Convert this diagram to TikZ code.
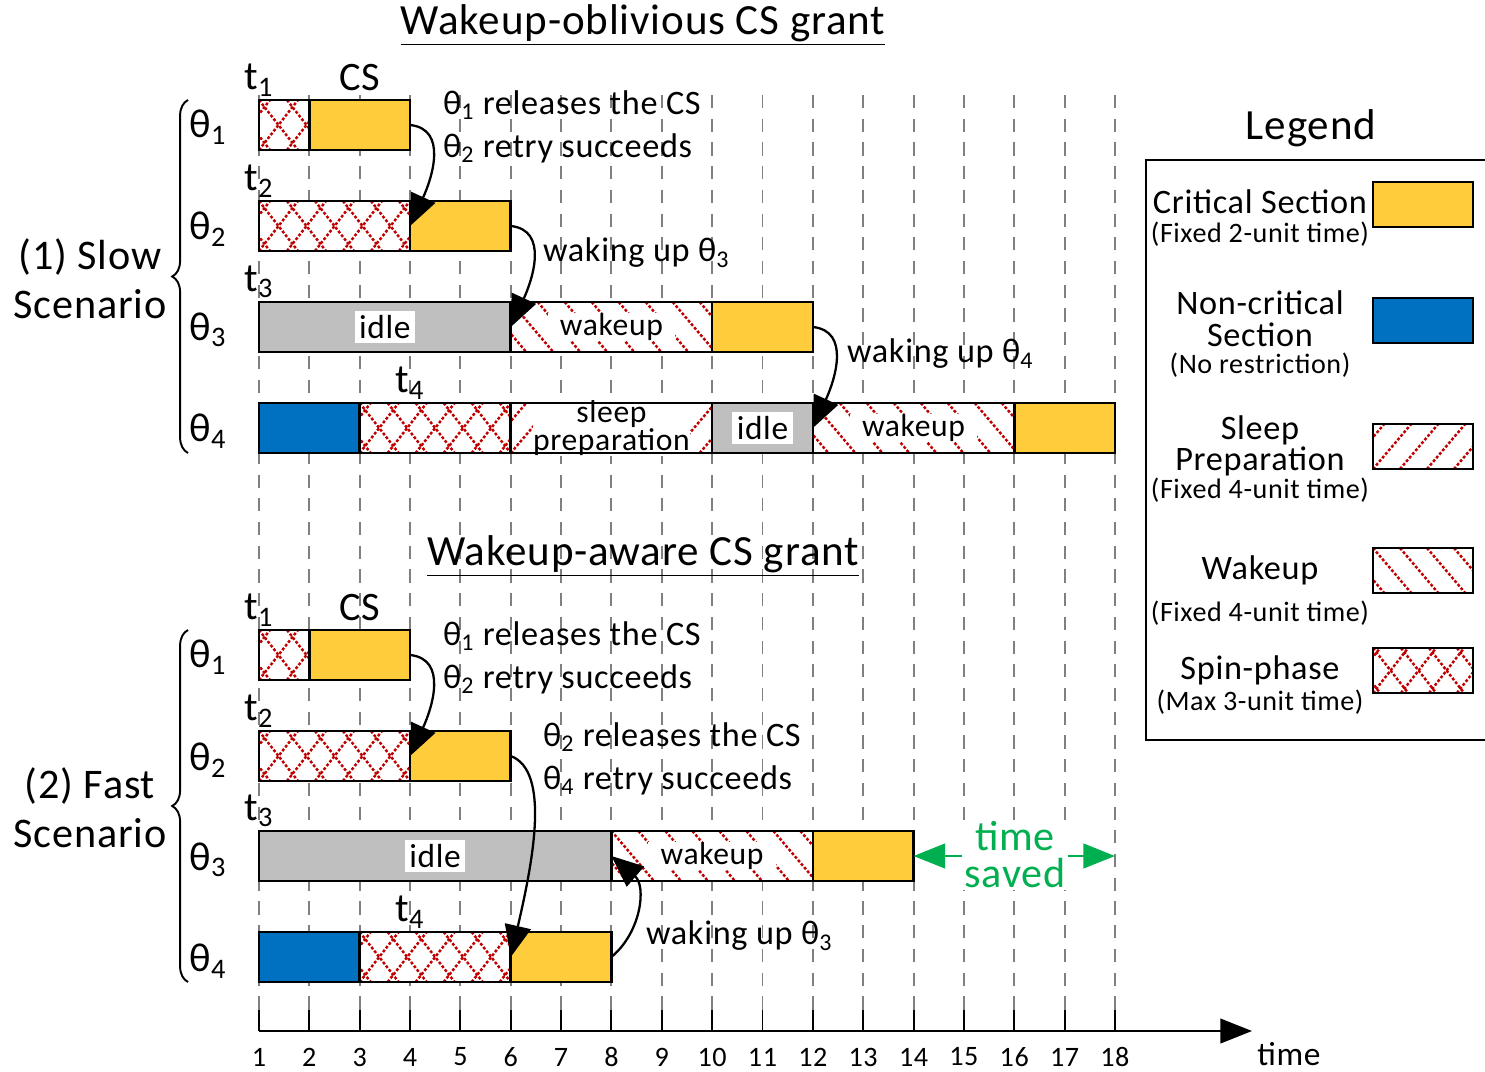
\documentclass[tikz,border=0pt]{standalone}
\usepackage{fontspec}
\setmainfont[LetterSpace=2]{Carlito}
\usepackage{tikz}
\usetikzlibrary{positioning, arrows.meta, decorations.pathreplacing, calc}
\definecolor{csYellow}{RGB}{255,204,60}
\definecolor{ncsBlue}{RGB}{0,112,192}
\definecolor{idleGray}{RGB}{191,191,191}
\definecolor{hatchRed}{RGB}{192,0,0}
\definecolor{savedGreen}{RGB}{0,176,80}
\definecolor{gridGray}{RGB}{128,128,128}

\newcommand{\runbar}[5]{\node[#2, minimum width={(#4-#3)*1.007cm}] (#1) at ({tx(#3)},#5) {};}

\tikzset{
    slotbox/.style={draw=black, line width=1.5pt, inner sep=0pt, outer sep=0pt, minimum height=1cm, anchor=north west},
    hatchline/.style={draw=hatchRed, line width=1.4pt, dash pattern=on 1.6pt off 1.1pt},
    cs/.style={slotbox, fill=csYellow},
    ncs/.style={slotbox, fill=ncsBlue},
    idle/.style={slotbox, fill=idleGray},
    spin/.style={slotbox, fill=white, path picture={
        \foreach \k in {-2,...,13} {
            \draw[hatchline] ([xshift=\k*0.56cm]path picture bounding box.north west) -- ++(0.78cm,-1cm);
            \draw[hatchline] ([xshift=\k*0.56cm]path picture bounding box.south west) -- ++(0.78cm,1cm);}}},
    sleep/.style={slotbox, fill=white, path picture={
        \foreach \k in {-2,...,9}
            \draw[hatchline] ([xshift=\k*0.54cm]path picture bounding box.south west) -- ++(0.85cm,1cm);}},
    wake/.style={slotbox, fill=white, path picture={
        \foreach \k in {-2,...,9}
            \draw[hatchline] ([xshift=\k*0.54cm]path picture bounding box.north west) -- ++(0.85cm,-1cm);}},
    tag/.style={fill=white, inner xsep=7pt, inner ysep=0pt, font=\fontsize{18}{15}\selectfont, align=center},
    idletag/.style={fill=white, inner sep=2.5pt, font=\fontsize{19}{22}\selectfont},
    note/.style={font=\fontsize{19.5}{23}\selectfont, inner sep=1pt, anchor=west},
    tlab/.style={font=\fontsize{23}{26}\selectfont, inner sep=1pt},
    head/.style={font=\fontsize{24.5}{28}\selectfont, align=center},
    legtxt/.style={font=\fontsize{19.5}{18}\selectfont, align=center, inner sep=1pt},
    legsub/.style={font=\fontsize{16}{19}\selectfont, inner sep=1pt},
    axnum/.style={font=\fontsize{16}{19}\selectfont, inner sep=0.5pt},
    gridline/.style={gridGray, line width=1.1pt, dash pattern=on 7.5pt off 6pt},
    axtick/.style={black, line width=1.1pt},
    timeaxis/.style={line width=1.2pt, -{Triangle[length=18pt,width=14pt]}},
    flow/.style={line width=1.3pt, -{Triangle[length=18pt,width=15pt]}},
    gain/.style={savedGreen, line width=1.5pt, -{Triangle[length=18pt,width=14pt]}},
    scen/.style={decorate, decoration={brace, amplitude=9pt}, line width=1.1pt}
}

\begin{document}
\begin{tikzpicture}[x=0.02cm, y=-0.02cm, declare function={tx(\t)=259+(\t-1)*50.35;}]
    \useasboundingbox (0,0) rectangle (1485,1072);
    % time grid and axis
    \foreach \t in {1,...,18} {
        \draw[gridline] ({tx(\t)},95) -- ({tx(\t)},1010);
        \draw[axtick] ({tx(\t)},1010) -- ({tx(\t)},1031);
        \node[axnum] (n\t) at ({tx(\t)},1057) {\t};
    }
    \coordinate (ax0) at (259,1031); \coordinate (axE) at (1252,1031);
    \draw[timeaxis] (ax0) -- (axE);
    \node[font=\fontsize{19}{22}\selectfont, inner sep=0.5pt] (tname) at (1289,1054) {time};

    % (1) slow scenario
    \node[head] (titleS) at (643,25) {\underline{Wakeup-oblivious CS grant}};
    \runbar{s1spin}{spin}{1}{2}{100} \runbar{s1cs}{cs}{2}{4}{100}
    \runbar{s2spin}{spin}{1}{4}{201} \runbar{s2cs}{cs}{4}{6}{201}
    \runbar{s3idle}{idle}{1}{6}{302} \runbar{s3wake}{wake}{6}{10}{302} \runbar{s3cs}{cs}{10}{12}{302}
    \runbar{s4ncs}{ncs}{1}{3}{403} \runbar{s4spin}{spin}{3}{6}{403} \runbar{s4sleep}{sleep}{6}{10}{403}
    \runbar{s4idle}{idle}{10}{12}{403} \runbar{s4wake}{wake}{12}{16}{403} \runbar{s4cs}{cs}{16}{18}{403}
    \node[idletag] (s3it) at (s3idle) {idle};
    \node[tag] (s3wt) at (s3wake) {wakeup};
    \node[tag, inner xsep=0pt] (s4st) at (s4sleep) {sleep\\preparation};
    \draw[line width=1.5pt] (s4sleep.north west) rectangle (s4sleep.south east);
    \node[idletag] (s4it) at (s4idle) {idle};
    \node[tag] (s4wt) at (s4wake) {wakeup};
    \node[tlab, above=1pt of s1spin.north west] (st1) {t\textsubscript{1}};
    \node[tlab, above=4pt of s1cs.north] (scs) {CS};
    \node[tlab, above=1pt of s2spin.north west] (st2) {t\textsubscript{2}};
    \node[tlab, above=1pt of s3idle.north west] (st3) {t\textsubscript{3}};
    \node[tlab, anchor=south] (st4) at ([xshift=1.007cm, yshift=1pt]s4spin.north west) {t\textsubscript{4}};
    \foreach \r/\y in {1/127,2/229,3/330,4/431}
        \node[tlab] (sth\r) at (208,\y) {θ\textsubscript{\r}};
    \draw[scen] (188,453) -- (188,100);
    \node[head, font=\fontsize{24}{28}\selectfont] (slow) at (90,279) {(1) Slow\\Scenario};
    \node[note] (sn1) at (441,105) {θ\textsubscript{1} releases the CS};
    \node[note] (sn2) at (441,148) {θ\textsubscript{2} retry succeeds};
    \node[note] (sn3) at (541,253) {waking up θ\textsubscript{3}};
    \node[note] (sn4) at (845,354) {waking up θ\textsubscript{4}};
    \draw[flow] (s1cs.east) .. controls +(38,4) and +(22,-48) .. (s2cs.west);
    \draw[flow] (s2cs.east) .. controls +(38,4) and +(22,-48) .. (s3wake.west);
    \draw[flow] (s3cs.east) .. controls +(38,4) and +(22,-48) .. (s4wake.west);

    % (2) fast scenario
    \node[head] (titleF) at (643,556) {\underline{Wakeup-aware CS grant}};
    \runbar{f1spin}{spin}{1}{2}{630} \runbar{f1cs}{cs}{2}{4}{630}
    \runbar{f2spin}{spin}{1}{4}{731} \runbar{f2cs}{cs}{4}{6}{731}
    \runbar{f3idle}{idle}{1}{8}{831} \runbar{f3wake}{wake}{8}{12}{831} \runbar{f3cs}{cs}{12}{14}{831}
    \runbar{f4ncs}{ncs}{1}{3}{932} \runbar{f4spin}{spin}{3}{6}{932} \runbar{f4cs}{cs}{6}{8}{932}
    \node[idletag] (f3it) at (f3idle) {idle};
    \node[tag] (f3wt) at (f3wake) {wakeup};
    \node[tlab, above=1pt of f1spin.north west] (ft1) {t\textsubscript{1}};
    \node[tlab, above=4pt of f1cs.north] (fcs) {CS};
    \node[tlab, above=1pt of f2spin.north west] (ft2) {t\textsubscript{2}};
    \node[tlab, above=1pt of f3idle.north west] (ft3) {t\textsubscript{3}};
    \node[tlab, anchor=south] (ft4) at ([xshift=1.007cm, yshift=1pt]f4spin.north west) {t\textsubscript{4}};
    \foreach \r/\y in {1/657,2/760,3/860,4/961}
        \node[tlab] (fth\r) at (208,\y) {θ\textsubscript{\r}};
    \draw[scen] (188,982) -- (188,630);
    \node[head, font=\fontsize{24}{28}\selectfont] (fast) at (90,808) {(2) Fast\\Scenario};
    \node[note] (fn1) at (441,636) {θ\textsubscript{1} releases the CS};
    \node[note] (fn2) at (441,679) {θ\textsubscript{2} retry succeeds};
    \node[note] (fn3) at (541,737) {θ\textsubscript{2} releases the CS};
    \node[note] (fn4) at (541,780) {θ\textsubscript{4} retry succeeds};
    \node[note] (fn5) at (644,936) {waking up θ\textsubscript{3}};
    \draw[flow] (f1cs.east) .. controls +(38,4) and +(22,-48) .. (f2cs.west);
    \draw[flow] (f2cs.east) .. controls +(40,15) and +(22,-95) .. (f4cs.west);
    \draw[flow] (f4cs.east) .. controls +(30,-25) and +(35,30) .. (f3wake.west);
    \node[head, text=savedGreen, fill=white, inner sep=1pt, font=\fontsize{24}{21}\selectfont] (saved) at (1015,855) {time\\saved};
    \coordinate (end18) at ({tx(18)},856);
    \draw[gain] (saved.west |- end18) -- (f3cs.east |- end18);
    \draw[gain] (saved.east |- end18) -- (end18);

    % legend
    \node[head] (leg) at (1311,128) {Legend};
    \draw[line width=1.3pt] (1485,160) -| (1146,740) -- (1485,740);
    \node[legtxt] (lcs) at (1260,202) {Critical Section};
    \node[legsub] (lcs2) at (1260,234) {(Fixed 2-unit time)};
    \node[legtxt] (lncs) at (1260,319) {Non-critical\\Section};
    \node[legsub] (lncs2) at (1260,365) {(No restriction)};
    \node[legtxt] (lsl) at (1260,446) {Sleep\\Preparation};
    \node[legsub] (lsl2) at (1260,490) {(Fixed 4-unit time)};
    \node[legtxt] (lwk) at (1260,570) {Wakeup};
    \node[legsub] (lwk2) at (1260,613) {(Fixed 4-unit time)};
    \node[legtxt] (lsp) at (1260,670) {Spin-phase};
    \node[legsub] (lsp2) at (1260,702) {(Max 3-unit time)};
    \foreach \s/\y in {cs/182,ncs/298,sleep/424,wake/548,spin/648}
        \node[\s, minimum width=2cm, minimum height=0.9cm] (key\s) at (1373,\y) {};
\end{tikzpicture}
\end{document}
